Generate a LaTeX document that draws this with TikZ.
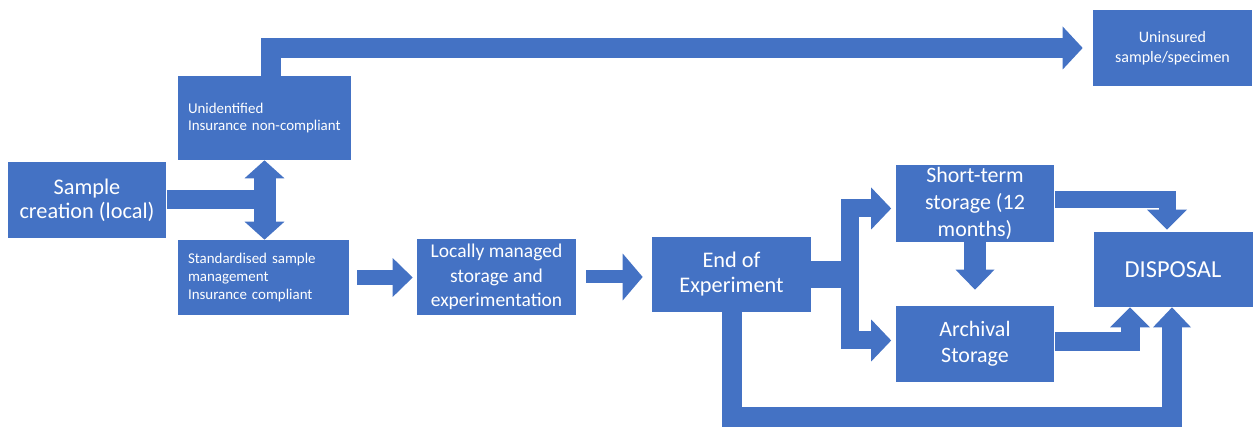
\documentclass[tikz,border=0pt]{standalone}
\usepackage{fontspec}
\setmainfont{Carlito}
\usepackage{tikz}
\usetikzlibrary{arrows.meta}
\definecolor{boxblue}{RGB}{68,114,196}
\tikzset{
    box/.style = {fill=boxblue, text=white, inner sep=0pt, align=center,
        minimum width=3.18cm, minimum height=1.52cm},
    note/.style = {box, align=left, inner xsep=0.2cm, text width=3.06cm,
        font=\fontsize{8.5}{10.2}\selectfont},
    flow/.style = {draw=boxblue, line width=#1},
    flow/.default = 0.4cm,
    flowtip/.style = {-{Triangle[width=#1, length=0.4cm, line width=0pt]}},
    flowtip/.default = 0.8cm
}

\begin{document}
\begin{tikzpicture}[x=0.02cm, y=-0.02cm]
\useasboundingbox (0,0) rectangle (1254,428);

%boxes
\node[box, font=\fontsize{12.7}{13.6}\selectfont] (sample) at (87,200) {Sample\\creation (local)};
\node[note, minimum height=1.68cm] (unident) at (264.5,118) {Unidentified\\Insurance non-compliant};
\node[note, text width=3.02cm, minimum height=1.5cm] (std) at (263.5,277.5) {Standardised sample\\management\\Insurance compliant};
\node[box, font=\fontsize{11.1}{13.9}\selectfont] (local) at (496.5,277) {Locally managed\\storage and\\experimentation};
\node[box, minimum height=1.5cm, font=\fontsize{12.7}{14.2}\selectfont] (endexp) at (731.5,274.5) {End of\\Experiment};
\node[box, minimum height=1.54cm, inner ysep=-3pt, font=\fontsize{12.5}{15.3}\selectfont] (short) at (975,203.5) {Short-term\\storage (12\\months)};
\node[box, font=\fontsize{12.5}{14.7}\selectfont] (archival) at (975,344) {Archival\\Storage};
\node[box, minimum height=1.5cm, font=\fontsize{13.9}{16}\selectfont] (disposal) at (1173,269.5) {DISPOSAL};
\node[box, font=\fontsize{9.1}{11.3}\selectfont] (uninsured) at (1172.5,48) {Uninsured\\sample/specimen};

%split after creation
\draw[flow=0.38cm] (sample.east) -- (sample.east -| unident.south);
\draw[flow=0.44cm, {Triangle[width=0.8cm, length=0.36cm, line width=0pt]}-{Triangle[width=0.8cm, length=0.36cm, line width=0pt]}]
    (unident.south) -- (unident.south |- std.north);

%non-compliant route
\draw[flow, flowtip=0.86cm, shorten >=0.2cm] ([xshift=0.12cm]unident.north) |- (uninsured.west);

%compliant route
\draw[flow=0.3cm, flowtip=0.78cm, shorten <=0.16cm, shorten >=0.08cm] (std.east) -- (std.east -| local.west);
\draw[flow=0.26cm, flowtip=0.94cm, shorten <=0.2cm, shorten >=0.18cm] (local.east) -- (local.east -| endexp.west);

%branch to storage
\draw[flow=0.54cm] (endexp.east) -- ++(39,0) coordinate (branch);
\draw[flow=0.36cm, flowtip=0.84cm, shorten >=0.08cm] (branch) |- ([yshift=-0.1cm]short.west);
\draw[flow=0.36cm, flowtip=0.84cm, shorten >=0.08cm] (branch) |- ([yshift=0.07cm]archival.west);
\draw[flow=0.44cm, flowtip=0.78cm, shorten >=0.32cm] (short.south) -- (archival.north);

%disposal
\draw[flow=0.34cm, flowtip, shorten >=0.04cm] ([yshift=0.07cm]short.east) -| ([xshift=-0.12cm]disposal.north);
\draw[flow=0.38cm, flowtip] ([yshift=0.05cm]archival.east) -| ([xshift=-0.86cm]disposal.south);
\draw[flow=0.4cm, flowtip=0.76cm] (endexp.south) -- ++(0,105) -| ([xshift=-0.02cm]disposal.south);
\end{tikzpicture}
\end{document}
